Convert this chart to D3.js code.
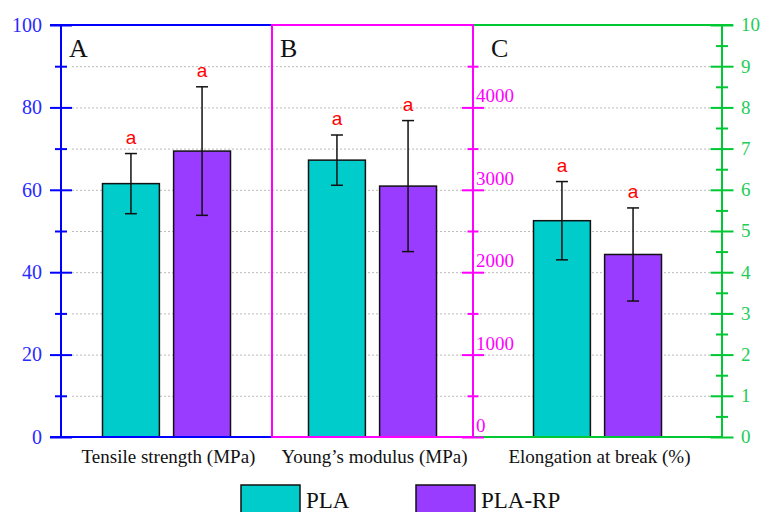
<!DOCTYPE html>
<html>
<head>
<meta charset="utf-8">
<script src="https://cdn.jsdelivr.net/npm/d3@7"></script>
<style>
  body { margin: 0; background: #fff; }
  svg { display: block; }
</style>
</head>
<body>
<div id="chart"></div>
<script>
// data
const categories = ["Tensile strength (MPa)", "Young\u2019s modulus (MPa)", "Elongation at break (%)"];
const panelLetters = ["A", "B", "C"];
const series = ["PLA", "PLA-RP"];
const plaMean = [61.5, 3360, 5.25];
const plaErr = [7.3, 305, 0.95];
const rpMean = [69.4, 3045, 4.43];
const rpErr = [15.6, 795, 1.13];
const plaSig = ["a", "a", "a"];
const rpSig = ["a", "a", "a"];
const axisDomains = [[0, 100], [0, 5000], [0, 10]];
const blueTicks = [0, 20, 40, 60, 80, 100];
const pinkTicks = [0, 1000, 2000, 3000, 4000];
const greenTicks = [0, 1, 2, 3, 4, 5, 6, 7, 8, 9, 10];

const width = 760, height = 512;
const yTop = 25, yBottom = 437;
const edges = [61, 272, 473, 722];
const colors = {PLA: "#00cccc", "PLA-RP": "#9a3cff"};
const blue = "#0000ff", pink = "#ff00ff", green = "#00c832";
const serif = "'Liberation Serif', 'DejaVu Serif', serif";

const svg = d3.select("#chart").append("svg")
  .attr("width", width).attr("height", height);

const yScales = axisDomains.map(d => d3.scaleLinear().domain(d).range([yBottom, yTop]));
const yA = yScales[0], yB = yScales[1], yC = yScales[2];

const xPanel = categories.map((c, i) => (edges[i] + edges[i + 1]) / 2);
const xSeries = d3.scaleBand().domain(series).range([-64, 64]).paddingInner(0.2);

// grid (every 10 on the left axis)
svg.append("g")
  .selectAll("line")
  .data(d3.range(10, 100, 10))
  .join("line")
  .attr("x1", 72).attr("x2", 716)
  .attr("y1", d => yA(d) + 0.5).attr("y2", d => yA(d) + 0.5)
  .attr("stroke", "#bbbbbb")
  .attr("stroke-dasharray", "2,2");

// rows for bars
const rows = [];
categories.forEach((c, i) => {
  rows.push({cat: i, s: "PLA", v: plaMean[i], e: plaErr[i], sig: plaSig[i]});
  rows.push({cat: i, s: "PLA-RP", v: rpMean[i], e: rpErr[i], sig: rpSig[i]});
});

const bx = d => xPanel[d.cat] + xSeries(d.s);
const bc = d => bx(d) + xSeries.bandwidth() / 2;

svg.append("g")
  .selectAll("rect")
  .data(rows)
  .join("rect")
  .attr("x", bx)
  .attr("width", xSeries.bandwidth())
  .attr("y", d => yScales[d.cat](d.v))
  .attr("height", d => yBottom - yScales[d.cat](d.v))
  .attr("fill", d => colors[d.s])
  .attr("stroke", "#111")
  .attr("stroke-width", 1.5);

const err = svg.append("g").attr("stroke", "#111").attr("stroke-width", 1.5);
err.selectAll(".stem").data(rows).join("line")
  .attr("x1", bc).attr("x2", bc)
  .attr("y1", d => yScales[d.cat](d.v + d.e))
  .attr("y2", d => yScales[d.cat](d.v - d.e));
err.selectAll(".capT").data(rows).join("line")
  .attr("x1", d => bc(d) - 6).attr("x2", d => bc(d) + 6)
  .attr("y1", d => yScales[d.cat](d.v + d.e))
  .attr("y2", d => yScales[d.cat](d.v + d.e));
err.selectAll(".capB").data(rows).join("line")
  .attr("x1", d => bc(d) - 6).attr("x2", d => bc(d) + 6)
  .attr("y1", d => yScales[d.cat](d.v - d.e))
  .attr("y2", d => yScales[d.cat](d.v - d.e));

svg.append("g")
  .selectAll("text")
  .data(rows)
  .join("text")
  .attr("x", bc)
  .attr("y", d => yScales[d.cat](d.v + d.e) - 10)
  .attr("text-anchor", "middle")
  .attr("fill", "#ff0000")
  .attr("font-family", "'Liberation Sans', Arial, sans-serif")
  .attr("font-size", 19)
  .text(d => d.sig);

// frames
function hline(x1, x2, y, c) {
  svg.append("line").attr("x1", x1).attr("x2", x2).attr("y1", y).attr("y2", y)
    .attr("stroke", c).attr("stroke-width", 2);
}
hline(50, 272, yTop, blue);
hline(50, 272, yBottom, blue);
hline(473, 733, yTop, green);
hline(473, 722, yBottom, green);

svg.append("rect")
  .attr("x", 272).attr("y", yTop)
  .attr("width", 473 - 272).attr("height", yBottom - yTop)
  .attr("fill", "none").attr("stroke", pink).attr("stroke-width", 2);

// tick helper: major ticks both sides, minor ticks both sides
function ticksAt(x, scale, major, minor, c, majLen, minLen) {
  const g = svg.append("g").attr("transform", `translate(${x},0)`);
  [[d3.axisLeft, major, majLen], [d3.axisRight, major, majLen],
   [d3.axisLeft, minor, minLen], [d3.axisRight, minor, minLen]].forEach(([ax, vals, len]) => {
    g.append("g")
      .call(ax(scale).tickValues(vals).tickSize(len).tickFormat(""))
      .call(a => a.select(".domain").remove())
      .call(a => a.selectAll("line").attr("stroke", c).attr("stroke-width", 2));
  });
  g.append("line").attr("y1", yTop).attr("y2", yBottom)
    .attr("stroke", c).attr("stroke-width", 2);
  return g;
}

// left blue axis
ticksAt(61, yA, blueTicks, d3.range(10, 100, 20), blue, 11, 6);
svg.append("g")
  .selectAll("text")
  .data(blueTicks)
  .join("text")
  .attr("x", 42)
  .attr("y", d => yA(d))
  .attr("dy", "0.34em")
  .attr("text-anchor", "end")
  .attr("fill", "#2a2aff")
  .attr("font-family", serif)
  .attr("font-size", 20)
  .text(d => d);

// middle pink axis
ticksAt(473, yB, pinkTicks, d3.range(500, 5000, 1000), pink, 11, 5.5);
svg.append("g")
  .selectAll("text")
  .data(pinkTicks)
  .join("text")
  .attr("x", 476)
  .attr("y", d => yB(d) - 5)
  .attr("fill", pink)
  .attr("font-family", serif)
  .attr("font-size", 19)
  .text(d => d);

// right green axis
ticksAt(722, yC, greenTicks, d3.range(0.5, 10, 1), green, 11.5, 6);
svg.append("g")
  .selectAll("text")
  .data(greenTicks)
  .join("text")
  .attr("x", 741)
  .attr("y", d => yC(d))
  .attr("dy", "0.34em")
  .attr("fill", "#22cc55")
  .attr("font-family", serif)
  .attr("font-size", 19)
  .text(d => d);

// panel letters
svg.append("g")
  .selectAll("text")
  .data(panelLetters)
  .join("text")
  .attr("x", (d, i) => edges[i] + (i === 0 ? 8 : 8 + (i === 2 ? 10 : 0)))
  .attr("y", 57)
  .attr("font-family", serif)
  .attr("font-size", 26)
  .attr("fill", "#111")
  .text(d => d);

// category labels
svg.append("g")
  .selectAll("text")
  .data(categories)
  .join("text")
  .attr("x", (d, i) => xPanel[i] + 2)
  .attr("y", 463)
  .attr("text-anchor", "middle")
  .attr("font-family", serif)
  .attr("font-size", 19)
  .attr("fill", "#111")
  .text(d => d);

// legend
const legX = [241, 416];
const leg = svg.append("g")
  .selectAll("g")
  .data(series)
  .join("g")
  .attr("transform", (d, i) => `translate(${legX[i]},485)`);
leg.append("rect")
  .attr("width", 59).attr("height", 32)
  .attr("fill", d => colors[d])
  .attr("stroke", "#111").attr("stroke-width", 1.5);
leg.append("text")
  .attr("x", 65).attr("y", 23)
  .attr("font-family", serif)
  .attr("font-size", 23)
  .attr("fill", "#111")
  .text(d => d);
</script>
</body>
</html>
